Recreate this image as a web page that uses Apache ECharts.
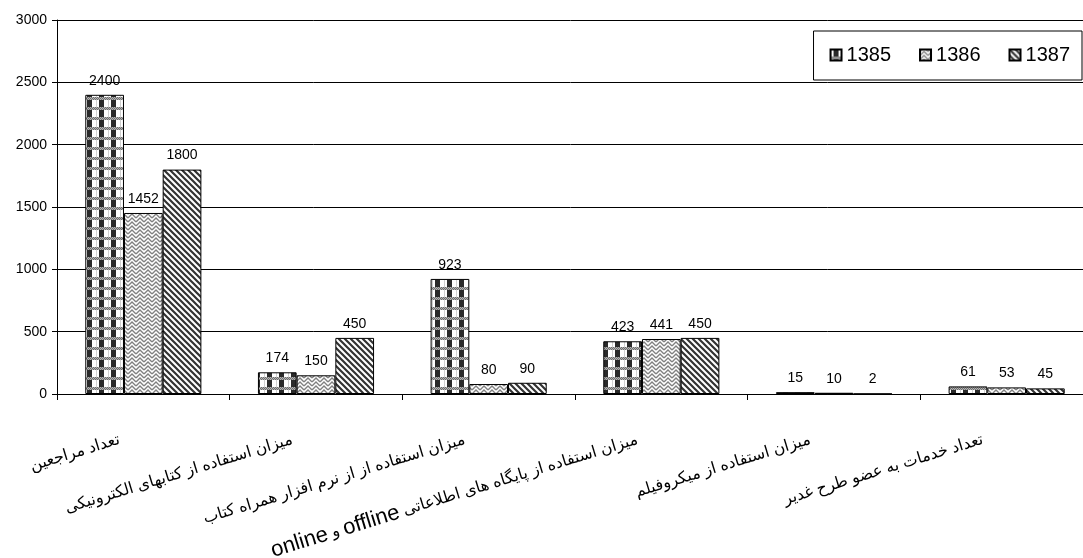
<!DOCTYPE html>
<html>
<head>
<meta charset="utf-8">
<script src="https://cdn.jsdelivr.net/npm/echarts@6/dist/echarts.min.js"></script>
<style>
  html, body { margin: 0; padding: 0; background: #fff; }
  #chart { width: 1083px; height: 558px; }
</style>
</head>
<body>
<div id="chart" dir="rtl"></div>
<script>
// دسته ها (محور افقی)
const categories = [
  'تعداد مراجعین',
  'میزان استفاده از کتابهای الکترونیکی',
  'میزان استفاده از از نرم افزار همراه کتاب',
  'میزان استفاده از پایگاه های اطلاعاتی offline و online',
  'میزان استفاده از میکروفیلم',
  'تعداد خدمات به عضو طرح غدیر'
]
const seriesNames = ['1385', '1386', '1387']
const values1385 = [2400, 174, 923, 423, 15, 61]
const values1386 = [1452, 150, 80, 441, 10, 53]
const values1387 = [1800, 450, 90, 450, 2, 45]
const yTicks = [0, 500, 1000, 1500, 2000, 2500, 3000]

const FONT = 'Liberation Sans, Arial, DejaVu Sans, sans-serif'

// الگوهای هاشور ستون ها
function makeTile(w, h, draw) {
  const c = document.createElement('canvas')
  c.width = w
  c.height = h
  const ctx = c.getContext('2d')
  ctx.fillStyle = '#fff'
  ctx.fillRect(0, 0, w, h)
  draw(ctx)
  return c
}

// 1385: شطرنجی تیره با نوار نقطه چین خاکستری
const tile1385 = makeTile(12, 10, ctx => {
  ctx.fillStyle = '#2a2a2a'
  ctx.fillRect(3, 0, 5, 7)
  for (let x = 0; x < 12; x++) {
    for (let y = 7; y < 10; y++) {
      ctx.fillStyle = (x + y) % 2 === 0 ? '#6e6e6e' : '#b4b4b4'
      ctx.fillRect(x, y, 1, 1)
    }
  }
  ctx.fillStyle = '#d0d0d0'
  ctx.fillRect(0, 0, 1, 7)
})

// 1386: زیگزاگ خاکستری
const tile1386 = makeTile(8, 8, ctx => {
  ctx.strokeStyle = '#808080'
  ctx.lineWidth = 1.4
  ctx.beginPath()
  ctx.moveTo(0, 6); ctx.lineTo(4, 2); ctx.lineTo(8, 6)
  ctx.moveTo(0, 10); ctx.lineTo(4, 6); ctx.lineTo(8, 10)
  ctx.moveTo(0, 2); ctx.lineTo(4, -2); ctx.lineTo(8, 2)
  ctx.stroke()
})

// 1387: خطوط مورب تیره
const tile1387 = makeTile(6, 6, ctx => {
  ctx.strokeStyle = '#333'
  ctx.lineWidth = 2.2
  ctx.beginPath()
  ctx.moveTo(-6, 0); ctx.lineTo(6, 12)
  ctx.moveTo(0, 0); ctx.lineTo(6, 6)
  ctx.moveTo(0, -6); ctx.lineTo(12, 6)
  ctx.stroke()
})

const tiles = [tile1385, tile1386, tile1387]
const seriesValues = [values1385, values1386, values1387]

// متن فارسی/لاتین به ترتیب دیداری (راست به چپ) برای rich text
function toVisualRich(text) {
  const runs = text.split(/([A-Za-z]+)/).filter(s => s.length)
  return runs.reverse().map(s => (/[A-Za-z]/.test(s) ? '{en|' : '{ar|') + s + '}').join('')
}

const myChart = echarts.init(document.getElementById('chart'))

const options = {
  animation: false,
  backgroundColor: '#fff',
  textStyle: { fontFamily: FONT },
  grid: {
    left: 57,
    right: -10,
    top: 20,
    bottom: 164,
    outerBoundsMode: 'none'
  },
  legend: {
    data: seriesNames,
    right: 1,
    top: 31,
    orient: 'horizontal',
    padding: [14, 12, 15, 16],
    borderColor: '#000',
    borderWidth: 1,
    backgroundColor: '#fff',
    itemWidth: 11,
    itemHeight: 11,
    itemGap: 28,
    icon: 'rect',
    textStyle: { fontSize: 20, color: '#000', fontFamily: FONT }
  },
  xAxis: {
    type: 'category',
    data: categories,
    axisLine: { lineStyle: { color: '#000', width: 1 } },
    axisTick: { show: true, length: 6, lineStyle: { color: '#000' } },
    axisLabel: {
      interval: 0,
      rotate: 17,
      margin: 38,
      padding: [0, 25, 0, 0],
      color: '#000',
      formatter: value => toVisualRich(value),
      rich: {
        ar: { fontSize: 16, color: '#000', fontFamily: FONT },
        en: { fontSize: 22, color: '#000', fontFamily: FONT }
      }
    },
    splitLine: { show: false }
  },
  yAxis: {
    type: 'value',
    min: yTicks[0],
    max: yTicks[yTicks.length - 1],
    interval: 500,
    axisLine: { show: true, lineStyle: { color: '#000', width: 1 } },
    axisTick: { show: true, length: 5, lineStyle: { color: '#000' } },
    axisLabel: {
      fontSize: 14,
      color: '#000',
      margin: 10,
      fontFamily: FONT,
      formatter: value => String(value)
    },
    splitLine: { show: true, lineStyle: { color: '#000', width: 1 } }
  },
  series: seriesNames.map((name, i) => ({
    name: name,
    type: 'bar',
    data: seriesValues[i],
    barWidth: 38.7,
    barGap: '0%',
    itemStyle: {
      color: { image: tiles[i], repeat: 'repeat' },
      borderColor: '#000',
      borderWidth: 1
    },
    label: {
      show: true,
      position: 'top',
      distance: 7,
      fontSize: 14,
      color: '#000',
      fontFamily: FONT
    }
  }))
}

myChart.setOption(options)
</script>
</body>
</html>
